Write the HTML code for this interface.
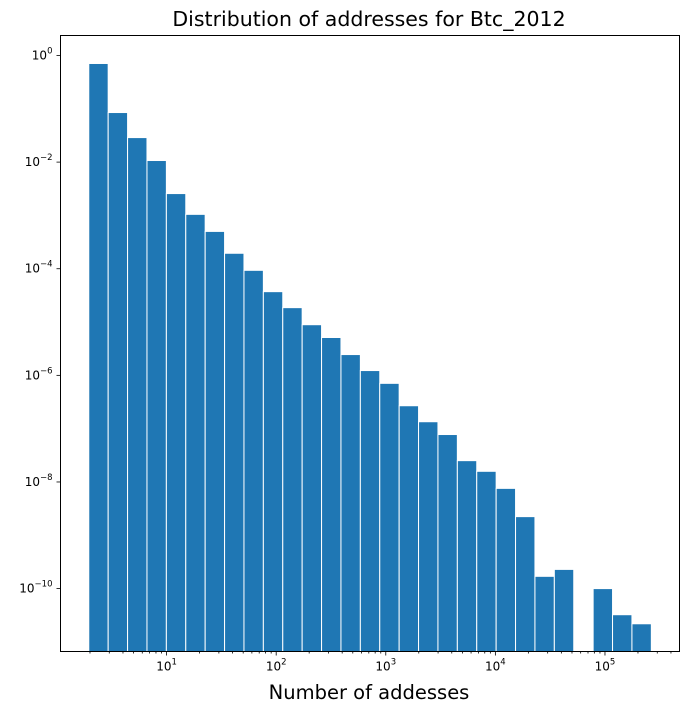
<!DOCTYPE html>
<html><head><meta charset="utf-8"><style>
body{margin:0;background:#fff;font-family:"Liberation Sans","DejaVu Sans",sans-serif}
svg text{font-family:"DejaVu Sans","Liberation Sans",sans-serif}
</style></head><body>
<svg id="chart" width="689" height="713">
<text x="369" y="26" text-anchor="middle" font-size="20.5">Distribution of addresses for Btc_2012</text>
<text x="369" y="699" text-anchor="middle" font-size="19.5">Number of addesses</text>
<g id="bars"></g>
<g id="axes"></g>
<rect x="60.5" y="35.5" width="619" height="616" fill="none" stroke="#000" stroke-width="1"/>
</svg>
<script>
const binStartLog = 0.29;
const binWidthLog = 0.177;
const logHeights = [-0.15,-1.07,-1.54,-1.97,-2.59,-2.98,-3.30,-3.71,-4.03,-4.43,-4.73,-5.05,-5.29,-5.61,-5.91,-6.15,-6.57,-6.87,-7.11,-7.60,-7.80,-8.12,-8.65,-9.77,-9.64,null,-10.0,-10.49,-10.66];
const yTickExps = [0,-2,-4,-6,-8,-10];
const xTickExps = [1,2,3,4,5];
const NS="http://www.w3.org/2000/svg";
const xL=60.5,xR=679.5,yT=35.5,yB=651.5;
const xMin=0.032,xMax=5.68,yMin=-11.18,yMax=0.375;
function xs(l){return xL+(l-xMin)/(xMax-xMin)*(xR-xL);}
function ys(l){return yB-(l-yMin)/(yMax-yMin)*(yB-yT);}
const bars=document.getElementById('bars'),axes=document.getElementById('axes');
logHeights.forEach((h,i)=>{
  if(h===null)return;
  const x0=xs(binStartLog+i*binWidthLog),x1=xs(binStartLog+(i+1)*binWidthLog);
  const r=document.createElementNS(NS,'rect');
  r.setAttribute('x',x0);r.setAttribute('width',x1-x0);
  r.setAttribute('y',ys(h));r.setAttribute('height',yB-ys(h));
  r.setAttribute('fill','#1f77b4');r.setAttribute('stroke','#fff');r.setAttribute('stroke-width','1');
  
  
  bars.appendChild(r);
});
function line(x1,y1,x2,y2){const l=document.createElementNS(NS,'line');l.setAttribute('x1',x1);l.setAttribute('y1',y1);l.setAttribute('x2',x2);l.setAttribute('y2',y2);l.setAttribute('stroke','#000');l.setAttribute('stroke-width','0.8');axes.appendChild(l);return l;}
function label(x,y,e,anchor,name){
  const t=document.createElementNS(NS,'text');t.setAttribute('x',x);t.setAttribute('y',y);t.setAttribute('font-size','12');t.setAttribute('text-anchor',anchor);
  t.innerHTML='10<tspan dy="-6" font-size="8.5">'+(e<0?'\u2212'+(-e):e)+'</tspan>';
  
  
  axes.appendChild(t);
}
yTickExps.forEach(e=>{const y=ys(e);line(xL-4,y,xL,y);label(xL-8,y+4,e,'end','y-tick-label');});
xTickExps.forEach(e=>{const x=xs(e);line(x,yB,x,yB+4);label(x,yB+19,e,'middle','x-tick-label');});
for(let e=0;e<=5;e++){for(let k=2;k<=9;k++){const x=xs(e+Math.log10(k));if(x>xL&&x<xR)line(x,yB,x,yB+2);}}
</script>
</body></html>
